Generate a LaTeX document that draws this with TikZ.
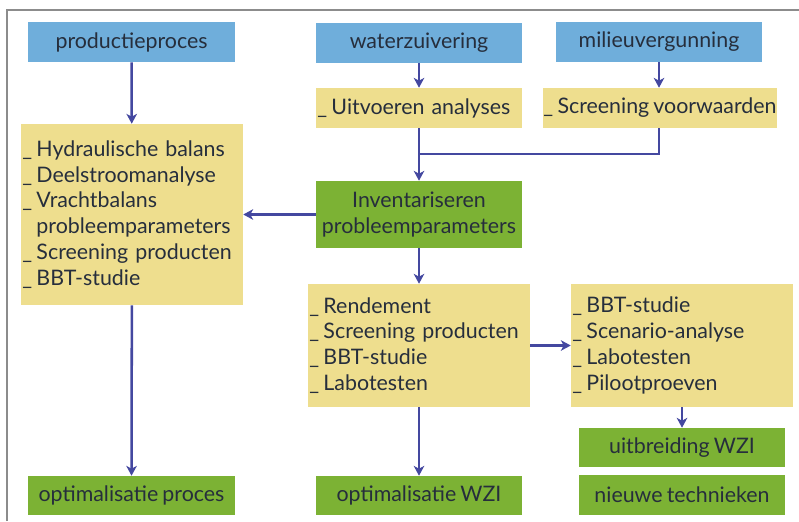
\documentclass[tikz,border=0pt]{standalone}
\usepackage{fontspec}
\setmainfont{Lato}[WordSpace=0.75]
\usepackage{xcolor}
\usetikzlibrary{calc, arrows.meta}

\definecolor{blauw}{RGB}{111,174,219}
\definecolor{geel}{RGB}{238,222,142}
\definecolor{groen}{RGB}{124,178,52}
\definecolor{pijlkleur}{RGB}{68,72,160}
\definecolor{tekst}{RGB}{38,46,60}
\definecolor{kader}{RGB}{140,140,140}

\newcommand{\streep}{\_\hspace{0.2em}}

\begin{document}
\begin{tikzpicture}[x=0.025cm, y=-0.025cm,
		every node/.style = {inner sep=0pt, text=tekst, font=\fontsize{15.2}{18.3}\selectfont},
		vak/.style = {minimum width={#1*0.025cm}, minimum height={40*0.025cm}, align=center},
		blauwvak/.style = {vak=#1, fill=blauw},
		groenvak/.style = {vak=#1, fill=groen},
		lijst/.style = {fill=geel, inner xsep=1pt, align=left, text width={#1*0.025cm-2pt}},
		pijl/.style = {-{Stealth[length=7pt, width=7.5pt, inset=2pt]}, draw=pijlkleur, line width=1.8pt},
		lijn/.style = {draw=pijlkleur, line width=1.8pt}]
		\def\ins{\phantom{\streep}}
		
		\useasboundingbox (0,0) rectangle (799,521);
		\draw [kader, line width=1.5pt] (7,521) -- (7,10) -- (799,10);
		
		% bovenste rij
		\node [blauwvak=207] (productie) at (131.5,42) {productieproces};
		\node [blauwvak=206] (water) at (419,42.5) {waterzuivering};
		\node [blauwvak=206] (milieu) at (659,42) {milieuvergunning};
		
		\node [lijst=206, minimum height={40*0.025cm}] (analyses) at (419,108) {\streep Uitvoeren analyses};
		\node [vak=234, fill=geel] (voorwaarden) at (660,108) {\streep Screening voorwaarden};
		
		% midden
		\node [lijst=222, minimum height={181*0.025cm}] (links) at (132,214.5) {\streep Hydraulische balans\\ \streep Deelstroomanalyse\\ \streep Vrachtbalans\\ \ins probleemparameters\\ \streep Screening producten\\ \streep BBT-studie};
		\node [groenvak=206, minimum height={67*0.025cm}] (inventaris) at (419,214.5) {Inventariseren\\ probleemparameters};
		
		\node [lijst=222, minimum height={123*0.025cm}] (midden) at (419,345.5) {\streep Rendement\\ \streep Screening producten\\ \streep BBT-studie\\ \streep Labotesten};
		\node [lijst=222, minimum height={123*0.025cm}] (rechts) at (682,345.5) {\streep BBT-studie\\ \streep Scenario-analyse\\ \streep Labotesten\\ \streep Pilootproeven};
		
		% onderste rij
		\node [groenvak=207, minimum height={39*0.025cm}] (optproces) at (131.5,495.5) {optimalisatie proces};
		\node [groenvak=206, minimum height={39*0.025cm}] (optwzi) at (419,495.5) {optimalisatie WZI};
		\node [groenvak=206, minimum height={39*0.025cm}] (uitbreiding) at (682,447.5) {uitbreiding WZI};
		\node [groenvak=206] (nieuw) at (682,495) {nieuwe technieken};
		
		\coordinate (knoop) at (419,154);
		
		\draw [pijl] (productie) -- (links);
		\draw [pijl] (water) -- (analyses);
		\draw [pijl] (milieu) -- (milieu |- voorwaarden.north);
		\draw [pijl] (analyses) -- (inventaris);
		\draw [lijn] (milieu |- voorwaarden.south) |- (knoop);
		\draw [pijl] (inventaris) -- (links);
		\draw [pijl] (inventaris) -- (midden);
		\draw [pijl] (midden) -- (rechts);
		\draw [pijl] (midden) -- (optwzi);
		\draw [pijl] (links) -- (optproces);
		\draw [pijl] (rechts) -- (uitbreiding);
	\end{tikzpicture}
\end{document}
